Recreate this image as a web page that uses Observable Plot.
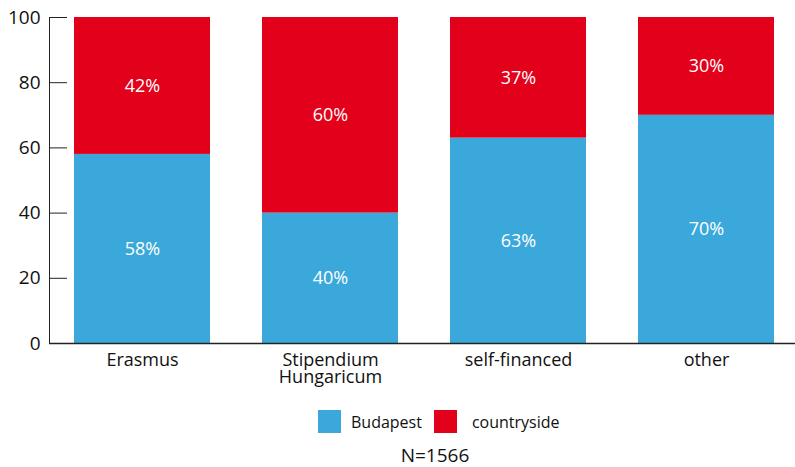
<!DOCTYPE html>
<html><head><meta charset="utf-8">
<script src="https://cdn.jsdelivr.net/npm/d3@7"></script>
<script src="https://cdn.jsdelivr.net/npm/@observablehq/plot@0.6"></script>
<style>
body{margin:0;background:#fff;font-family:"Open Sans",sans-serif;color:#111;}
#wrap{position:relative;width:795px;height:467px;}
#chart svg{display:block;}
.legend{position:absolute;left:318px;top:410px;display:flex;align-items:center;font-size:16px;}
.sw{width:23px;height:23px;display:inline-block;}
.caption{position:absolute;left:0;width:870px;text-align:center;top:442px;font-size:19px;}
</style></head><body>
<div id="wrap">
<div id="chart"></div>
<div class="legend" id="legend"></div>
<div class="caption" id="caption"></div>
</div>
<script>
const categories = ["Erasmus", "Stipendium Hungaricum", "self-financed", "other"];
const tickLabels = ["Erasmus", "Stipendium\nHungaricum", "self-financed", "other"];
const series = ["Budapest", "countryside"];
const budapest = [58, 40, 63, 70];
const countryside = [42, 60, 37, 30];
const yTicks = [0, 20, 40, 60, 80, 100];
const colors = ["#3AA8DB", "#E2001A"];
const caption = "N=1566";

const data = [];
categories.forEach((c, i) => {
  data.push({type: c, region: series[0], value: budapest[i]});
  data.push({type: c, region: series[1], value: countryside[i]});
});

const chart = Plot.plot({
  width: 795,
  height: 395,
  marginLeft: 49,
  marginRight: 0,
  marginTop: 17,
  marginBottom: 52,
  style: {fontFamily: "'Open Sans', sans-serif", color: "#111", background: "#fff"},
  x: {domain: categories, range: [49, 800], paddingInner: 0.276, paddingOuter: 0.133, axis: null},
  y: {domain: [0, 100], axis: null},
  color: {domain: series, range: colors},
  marks: [
    Plot.barY(data, {x: "type", y: "value", fill: "region"}),
    Plot.text(data, Plot.stackY({x: "type", y: "value", z: "region", text: d => d.value + "%", fill: "white", fontSize: 18})),
    Plot.ruleY(yTicks, {y: d => d, stroke: "#222", insetRight: 795 - 49 - 18}),
    Plot.ruleY([0], {stroke: "#222", strokeWidth: 1.5}),
    Plot.frame({anchor: "left", stroke: "#222"}),
    Plot.axisY({ticks: yTicks, tickSize: 0, tickPadding: 9, fontSize: 19, label: null}),
    Plot.axisX({tickSize: 0, tickPadding: 10, fontSize: 18, lineHeight: 0.95, label: null,
      tickFormat: d => tickLabels[categories.indexOf(d)]})
  ]
});
document.getElementById("chart").appendChild(chart);

const legend = document.getElementById("legend");
series.forEach((s, i) => {
  const sw = document.createElement("span");
  sw.className = "sw";
  sw.style.background = colors[i];
  sw.style.marginLeft = i ? "12px" : "0";
  const t = document.createElement("span");
  t.textContent = s;
  t.style.marginLeft = i ? "15px" : "10px";
  legend.appendChild(sw);
  legend.appendChild(t);
});
document.getElementById("caption").textContent = caption;
</script>
</body></html>
